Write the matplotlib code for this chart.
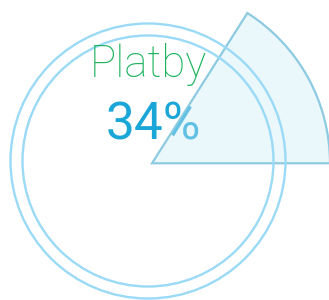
import matplotlib
matplotlib.use("Agg")
import matplotlib.pyplot as plt
from matplotlib.patches import Wedge, Circle

# Data
label = "Platby"
percent_value = 34
wedge_fraction = [0.16]  # highlighted slice (fraction of full circle)

W, H = 329, 300
fig = plt.figure(figsize=(W / 100, H / 100), dpi=100)
ax = fig.add_axes([0, 0, 1, 1])
ax.set_xlim(0, W)
ax.set_ylim(H, 0)
ax.set_aspect("equal")
ax.axis("off")

ring_color = "#9bdaf6"
# Double ring
ax.add_patch(Circle((148, 161), 137.5, fill=False, ec=ring_color, lw=1.7, zorder=4))
ax.add_patch(Circle((148, 161), 125.5, fill=False, ec=ring_color, lw=1.7, zorder=4))

# Highlight wedge (y axis inverted, so angles are negated)
theta = wedge_fraction[0] * 360
ax.add_patch(Wedge((152, 163.3), 178, -theta, 0, fc=(0.80, 0.92, 0.97, 0.4),
                   ec=(0.45, 0.75, 0.86, 0.8), lw=1.6, zorder=3))

ax.text(148, 77, label, ha="center", va="baseline", color="#1bb35c",
        fontsize=31.5, family="Roboto", fontweight="light", zorder=5)
ax.text(153, 139, f"{percent_value}%", ha="center", va="baseline", color="#1ba6d8",
        fontsize=37, family="Roboto", fontweight="normal", zorder=1)

fig.savefig("out.png", dpi=100)
